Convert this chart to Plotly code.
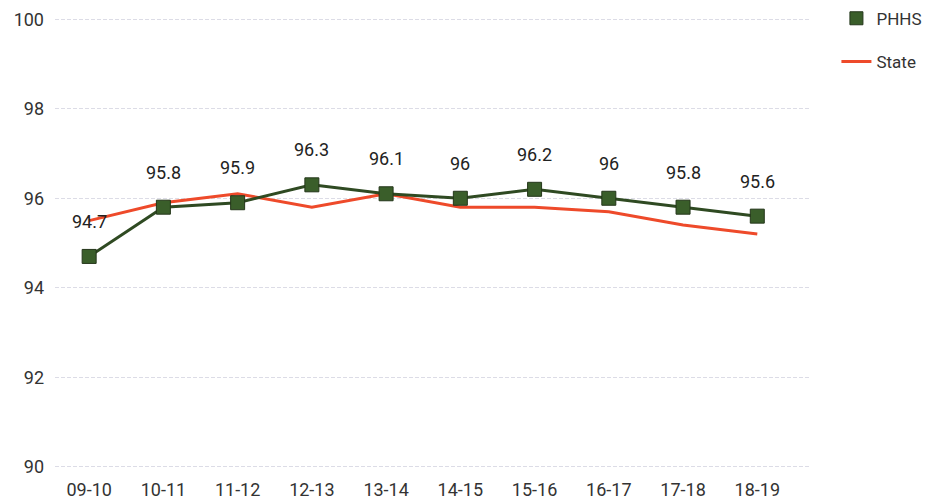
import plotly.graph_objects as go

years = ["09-10", "10-11", "11-12", "12-13", "13-14", "14-15", "15-16", "16-17", "17-18", "18-19"]
phhs = [94.7, 95.8, 95.9, 96.3, 96.1, 96.0, 96.2, 96.0, 95.8, 95.6]
phhs_labels = ["94.7", "95.8", "95.9", "96.3", "96.1", "96", "96.2", "96", "95.8", "95.6"]
state = [95.5, 95.9, 96.1, 95.8, 96.1, 95.8, 95.8, 95.7, 95.4, 95.2]

green = "#3a5e2a"
red = "#ee4a2a"

fig = go.Figure()

fig.add_trace(go.Scatter(
    x=years, y=state, name="State", mode="lines",
    line=dict(color=red, width=3), legendgroup="b", legendrank=2,
))
fig.add_trace(go.Scatter(
    x=years, y=phhs, name="PHHS", mode="lines+markers", showlegend=False,
    line=dict(color="#2f4a22", width=3),
    marker=dict(symbol="square", size=14, color=green, line=dict(color="#24361a", width=1)),
))
# legend entry for PHHS shows only the square
fig.add_trace(go.Scatter(
    x=[None], y=[None], name="PHHS", mode="markers", legendgroup="a", legendrank=1,
    marker=dict(symbol="square", size=13, color=green, line=dict(color="#24361a", width=1)),
))

for x, y, t in zip(years, phhs, phhs_labels):
    fig.add_annotation(x=x, y=y, text=t, showarrow=False, yshift=35,
                       font=dict(family="Roboto", size=18, color="#222222"))

# page body adds ~8px offset, margins compensate
fig.update_layout(
    width=934, height=502,
    margin=dict(l=47, r=132, t=9, b=41, autoexpand=False),
    paper_bgcolor="white", plot_bgcolor="white",
    font=dict(family="Roboto", size=14, color="#444444"),
    showlegend=True,
    legend=dict(x=1.035, y=1.036, xanchor="left", yanchor="top",
                traceorder="grouped", font=dict(size=17, color="#333333"),
                itemwidth=30, tracegroupgap=18),
    xaxis=dict(type="category", range=[-0.46, 9.71], showgrid=False, zeroline=False,
               showline=False, ticks="", automargin=False, ticklabelstandoff=8,
               tickfont=dict(size=18, color="#333333")),
    yaxis=dict(range=[89.95, 100.05], tickvals=[90, 92, 94, 96, 98, 100],
               showgrid=True, gridcolor="#dcdce6", griddash="4px,2px", gridwidth=1,
               zeroline=False, showline=False, automargin=False, ticklabelstandoff=10,
               tickfont=dict(size=18, color="#333333")),
)

fig.write_html("out.html")
